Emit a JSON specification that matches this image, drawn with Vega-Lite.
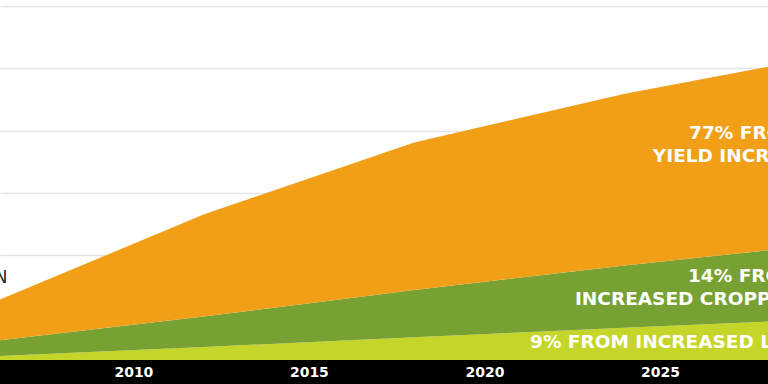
{
  "$schema": "https://vega.github.io/schema/vega-lite/v6.json",
  "width": 768,
  "height": 384,
  "autosize": {"type": "none"},
  "padding": 0,
  "background": "white",
  "config": {"view": {"stroke": null}},
  "datasets": {
    "production": [
      {"year": 2006, "source": "Increased land area", "gain": 0.060, "rank": 1},
      {"year": 2006, "source": "Increased cropping intensity", "gain": 0.245, "rank": 2},
      {"year": 2006, "source": "Yield increases", "gain": 0.618, "rank": 3},
      {"year": 2012, "source": "Increased land area", "gain": 0.209, "rank": 1},
      {"year": 2012, "source": "Increased cropping intensity", "gain": 0.490, "rank": 2},
      {"year": 2012, "source": "Yield increases", "gain": 1.637, "rank": 3},
      {"year": 2018, "source": "Increased land area", "gain": 0.365, "rank": 1},
      {"year": 2018, "source": "Increased cropping intensity", "gain": 0.759, "rank": 2},
      {"year": 2018, "source": "Yield increases", "gain": 2.368, "rank": 3},
      {"year": 2024, "source": "Increased land area", "gain": 0.517, "rank": 1},
      {"year": 2024, "source": "Increased cropping intensity", "gain": 1.000, "rank": 2},
      {"year": 2024, "source": "Yield increases", "gain": 2.759, "rank": 3},
      {"year": 2030, "source": "Increased land area", "gain": 0.667, "rank": 1},
      {"year": 2030, "source": "Increased cropping intensity", "gain": 1.211, "rank": 2},
      {"year": 2030, "source": "Yield increases", "gain": 3.034, "rank": 3}
    ],
    "labels": [
      {"label": "77% FROM", "year": 2025.83, "value": 3.555},
      {"label": "YIELD INCREASES", "year": 2024.80, "value": 3.186},
      {"label": "14% FROM", "year": 2025.80, "value": 1.252},
      {"label": "INCREASED CROPPING INTENSITY", "year": 2022.58, "value": 0.883},
      {"label": "9% FROM INCREASED LAND", "year": 2021.30, "value": 0.185}
    ],
    "note": [
      {"label": "N", "year": 2006.41, "value": 1.236}
    ],
    "band": [
      {"from": 2000, "to": 2040, "top": 0, "bottom": -0.385}
    ]
  },
  "layer": [
    {
      "data": {"name": "production"},
      "mark": {"type": "area", "clip": true, "interpolate": "linear"},
      "encoding": {
        "x": {
          "field": "year",
          "type": "quantitative",
          "scale": {"domain": [2006.2, 2028.08], "nice": false, "zero": false},
          "axis": {
            "values": [2010, 2015, 2020, 2025],
            "format": "d",
            "domain": false,
            "ticks": false,
            "grid": false,
            "labelColor": "white",
            "labelFont": "DejaVu Sans",
            "labelFontWeight": "bold",
            "labelFontSize": 14,
            "labelBaseline": "middle",
            "labelPadding": -12,
            "labelFlush": false,
            "zindex": 1,
            "title": null
          }
        },
        "y": {
          "field": "gain",
          "type": "quantitative",
          "stack": "zero",
          "scale": {"domain": [-0.385, 5.779], "nice": false, "zero": false},
          "axis": {
            "values": [1.68, 2.68, 3.68, 4.68, 5.68],
            "grid": true,
            "gridColor": "#e4e4e4",
            "gridWidth": 1.5,
            "domain": false,
            "ticks": false,
            "labels": false,
            "title": null,
            "zindex": 0
          }
        },
        "color": {
          "field": "source",
          "type": "nominal",
          "scale": {
            "domain": ["Increased land area", "Increased cropping intensity", "Yield increases"],
            "range": ["#C5D52A", "#78A133", "#F09F17"]
          },
          "legend": null
        },
        "order": {"field": "rank", "type": "quantitative"}
      }
    },
    {
      "data": {"name": "band"},
      "mark": {"type": "rect", "color": "black", "clip": true},
      "encoding": {
        "x": {"field": "from", "type": "quantitative"},
        "x2": {"field": "to"},
        "y": {"field": "top", "type": "quantitative"},
        "y2": {"field": "bottom"}
      }
    },
    {
      "data": {"name": "labels"},
      "mark": {
        "type": "text",
        "align": "left",
        "baseline": "alphabetic",
        "color": "white",
        "font": "DejaVu Sans",
        "fontWeight": "bold",
        "fontSize": 18.5
      },
      "encoding": {
        "x": {"field": "year", "type": "quantitative"},
        "y": {"field": "value", "type": "quantitative"},
        "text": {"field": "label"}
      }
    },
    {
      "data": {"name": "note"},
      "mark": {
        "type": "text",
        "align": "right",
        "baseline": "alphabetic",
        "color": "#222222",
        "font": "DejaVu Sans",
        "fontSize": 17
      },
      "encoding": {
        "x": {"field": "year", "type": "quantitative"},
        "y": {"field": "value", "type": "quantitative"},
        "text": {"field": "label"}
      }
    }
  ]
}
